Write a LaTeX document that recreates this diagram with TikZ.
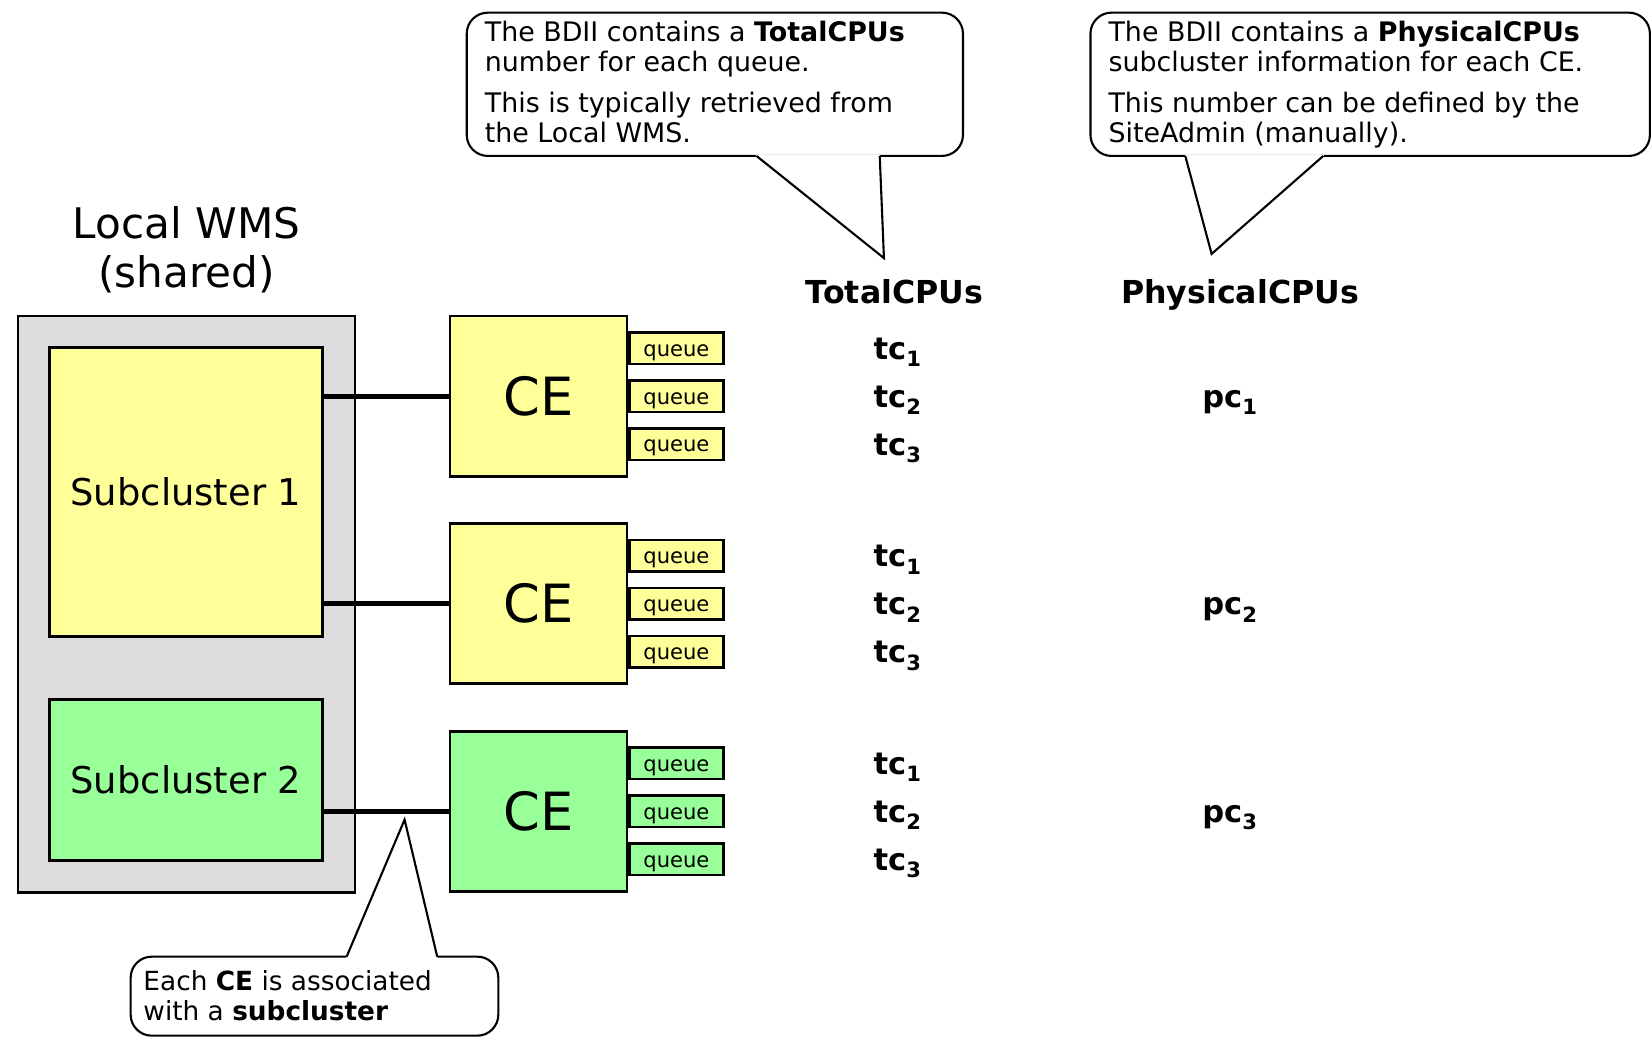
\documentclass[tikz,border=0pt]{standalone}
\usepackage{fontspec}
\setmainfont{DejaVu Sans}
\usetikzlibrary{calc}
\definecolor{ylw}{HTML}{FFFF99}
\definecolor{grn}{HTML}{99FF99}
\definecolor{gry}{HTML}{DDDDDD}
\newcommand\subv[2]{#1\raisebox{-7pt}{\fontsize{20}{20}\selectfont #2}}
\tikzset{
  box/.style={draw=black, line width=2.5pt, inner sep=0pt},
  scbox/.style={box, minimum width=259pt, font=\fontsize{35}{42}\selectfont},
  cebox/.style={box, fill=ylw, minimum width=168pt, minimum height=152pt, font=\fontsize{50}{58}\selectfont},
  qbox/.style={box, minimum width=89pt, minimum height=30pt, text height=19pt, text depth=4pt, font=\fontsize{20}{24}\selectfont, anchor=west},
  conn/.style={line width=4.5pt},
  calloutbox/.style={draw=black, line width=2pt, fill=white, rounded corners=20pt},
  pointer/.style={draw=black, line width=2pt, line join=miter},
  ctext/.style={font=\fontsize{25.5}{28}\selectfont, align=left, inner sep=0pt, anchor=north west},
  hdr/.style={font=\fontsize{30}{36}\selectfont\bfseries, inner sep=0pt, anchor=base},
  val/.style={font=\fontsize{29}{34}\selectfont\bfseries, inner sep=0pt, anchor=base west},
}
\begin{document}
\begin{tikzpicture}[x=1pt, y=-1pt]
\useasboundingbox (0,0) rectangle (1568,987);

% Local WMS
\node[font=\fontsize{40}{47}\selectfont, align=center, anchor=north, inner sep=0pt] (wmslabel) at (177,195.6) {Local WMS\\(shared)};
\node[box, fill=gry, minimum width=320pt, minimum height=547pt] (wms) at (177,573.5) {};
\node[scbox, fill=ylw, minimum height=274pt] (sc1) at (176.5,467) {Subcluster 1};
\node[scbox, fill=grn, minimum height=153pt] (sc2) at (176.5,740.5) {Subcluster 2};

% CEs
\node[cebox] (ce1) at (511,376) {CE};
\node[cebox] (ce2) at (511,573) {CE};
\node[cebox, fill=grn] (ce3) at (511,770) {CE};

\foreach \c/\col in {ce1/ylw, ce2/ylw, ce3/grn}{
  \node[qbox, fill=\col] (\c q1) at ($(\c.east)+(0,-45.5)$) {queue};
  \node[qbox, fill=\col] (\c q2) at (\c.east) {queue};
  \node[qbox, fill=\col] (\c q3) at ($(\c.east)+(0,45.5)$) {queue};
}

% connectors
\draw[conn] (ce1.west -| sc1.east) -- (ce1.west);
\draw[conn] (ce2.west -| sc1.east) -- (ce2.west);
\draw[conn] (ce3.west -| sc2.east) -- (ce3.west);

% headers
\node[hdr] (tch) at (849,288) {TotalCPUs};
\node[hdr] (pch) at (1177,288) {PhysicalCPUs};

% values
\foreach \c/\k in {ce1/1, ce2/2, ce3/3}{
  \node[val] (\c tc1) at ($(\c q1.center -| 829,0)+(0,10.5)$) {\subv{tc}{1}};
  \node[val] (\c tc2) at ($(\c q2.center -| 829,0)+(0,10.5)$) {\subv{tc}{2}};
  \node[val] (\c tc3) at ($(\c q3.center -| 829,0)+(0,10.5)$) {\subv{tc}{3}};
  \node[val] (\c pc) at ($(\c q2.center -| 1141,0)+(0,10.5)$) {\subv{pc}{\k}};
}

% callout 1
\draw[calloutbox] (443,12) rectangle (914,148);
\fill[white] (716.5,146.8) -- (839,245) -- (835.2,146.8) -- cycle;
\draw[pointer] (718,148) -- (839,245) -- (835,148);
\node[ctext] (c1) at (460,20.1) {The BDII contains a \textbf{TotalCPUs}\\number for each queue.\\[11.5pt]This is typically retrieved from\\the Local WMS.};

% callout 2
\draw[calloutbox] (1035,12) rectangle (1566,148);
\fill[white] (1124.7,146.8) -- (1150,241) -- (1257.4,146.8) -- cycle;
\draw[pointer] (1125,148) -- (1150,241) -- (1256,148);
\node[ctext] (c2) at (1052,20.1) {The BDII contains a \textbf{PhysicalCPUs}\\subcluster information for each CE.\\[11.5pt]This number can be defined by the\\SiteAdmin (manually).};

% callout 3
\draw[calloutbox] (124,908) rectangle (473,983);
\fill[white] (328.5,909.2) -- (384,778) -- (415.3,909.2) -- cycle;
\draw[pointer] (329,908) -- (384,778) -- (415,908);
\node[ctext, font=\fontsize{25}{28}\selectfont] (c3) at (136,921) {Each \textbf{CE} is associated\\with a \textbf{subcluster}};
\end{tikzpicture}
\end{document}
